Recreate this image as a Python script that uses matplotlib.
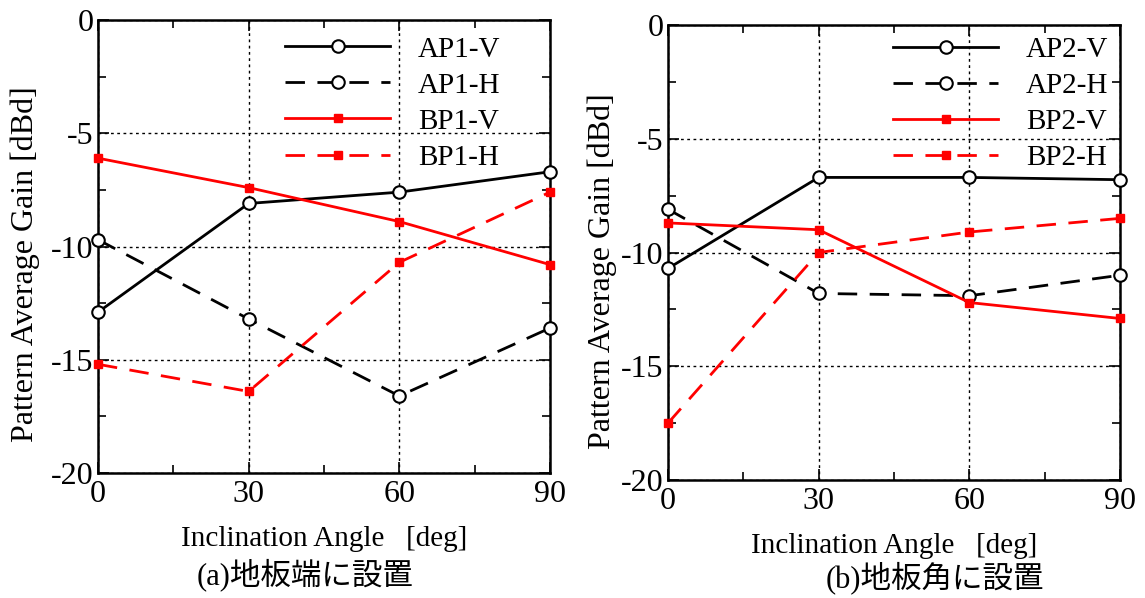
import matplotlib.pyplot as plt
from matplotlib.ticker import MultipleLocator

plt.rcParams['font.family'] = ['Liberation Serif', 'Noto Sans CJK JP']

angles = [0, 30, 60, 90]

# 地板端に設置
ap1_v = [-12.9, -8.1, -7.6, -6.7]
ap1_h = [-9.7, -13.2, -16.6, -13.6]
bp1_v = [-6.1, -7.4, -8.9, -10.8]
bp1_h = [-15.2, -16.4, -10.7, -7.6]

# 地板角に設置
ap2_v = [-10.7, -6.7, -6.7, -6.8]
ap2_h = [-8.1, -11.8, -11.9, -11.0]
bp2_v = [-8.7, -9.0, -12.2, -12.9]
bp2_h = [-17.5, -10.0, -9.1, -8.5]

xticks = [0, 30, 60, 90]
yticks = [0, -5, -10, -15, -20]

dash = (0, (7, 4.5))

W, H = 1145, 598


def draw_panel(ax, series, names, caption, cap_xy, leg_anchor, ylab_xy):
    styles = [
        dict(color='black', ls='-', marker='o', mfc='white', mec='black', ms=9, mew=1.5),
        dict(color='black', ls=dash, marker='o', mfc='white', mec='black', ms=9, mew=1.5),
        dict(color='red', ls='-', marker='s', mfc='red', mec='red', ms=6),
        dict(color='red', ls=dash, marker='s', mfc='red', mec='red', ms=6),
    ]
    for vals, name, st in zip(series, names, styles):
        ax.plot(angles, vals, lw=2, label=name, clip_on=False, zorder=3, **st)

    ax.set_xlim(0, 90)
    ax.set_ylim(-20, 0)
    ax.set_xticks(xticks)
    ax.set_yticks(yticks)
    ax.set_yticklabels([str(v) for v in yticks])
    ax.xaxis.set_minor_locator(MultipleLocator(15))
    ax.yaxis.set_minor_locator(MultipleLocator(2.5))
    ax.tick_params(which='both', direction='in', top=True, right=True, labelsize=23, width=1.2)
    ax.tick_params(which='major', length=8)
    ax.tick_params(which='minor', length=6)
    ax.tick_params(axis='x', pad=5)
    ax.tick_params(axis='y', pad=3)
    ax.grid(True, which='major', color='black', ls=(0, (2, 2.5)), lw=1)
    for sp in ax.spines.values():
        sp.set_linewidth(1.8)

    ax.set_ylabel('Pattern Average Gain [dBd]', fontsize=23)
    ax.yaxis.set_label_coords(*ylab_xy)
    ax.set_xlabel('Inclination Angle   [deg]', fontsize=21, labelpad=12)
    fig.text(cap_xy[0] / W, 1 - cap_xy[1] / H, caption,
             ha='center', va='center', fontsize=22)

    ax.legend(loc='upper right', frameon=False, fontsize=21, handlelength=3.6,
              handletextpad=0.95, labelspacing=0.33, borderaxespad=0,
              bbox_to_anchor=leg_anchor)


fig = plt.figure(figsize=(W / 100, H / 100), dpi=100)
ax1 = fig.add_axes([98 / W, 1 - 473 / H, 452 / W, 453 / H])
ax2 = fig.add_axes([668 / W, 1 - 480 / H, 452 / W, 455 / H])

draw_panel(ax1, [ap1_v, ap1_h, bp1_v, bp1_h],
           ['AP1-V', 'AP1-H', 'BP1-V', 'BP1-H'], '(a)地板端に設置',
           (305, 575), (0.916, 0.99), (-0.128, 0.46))
draw_panel(ax2, [ap2_v, ap2_h, bp2_v, bp2_h],
           ['AP2-V', 'AP2-H', 'BP2-V', 'BP2-H'], '(b)地板角に設置',
           (935, 578), (1.0, 1.0), (-0.112, 0.46))

fig.savefig('out.png', dpi=100)
